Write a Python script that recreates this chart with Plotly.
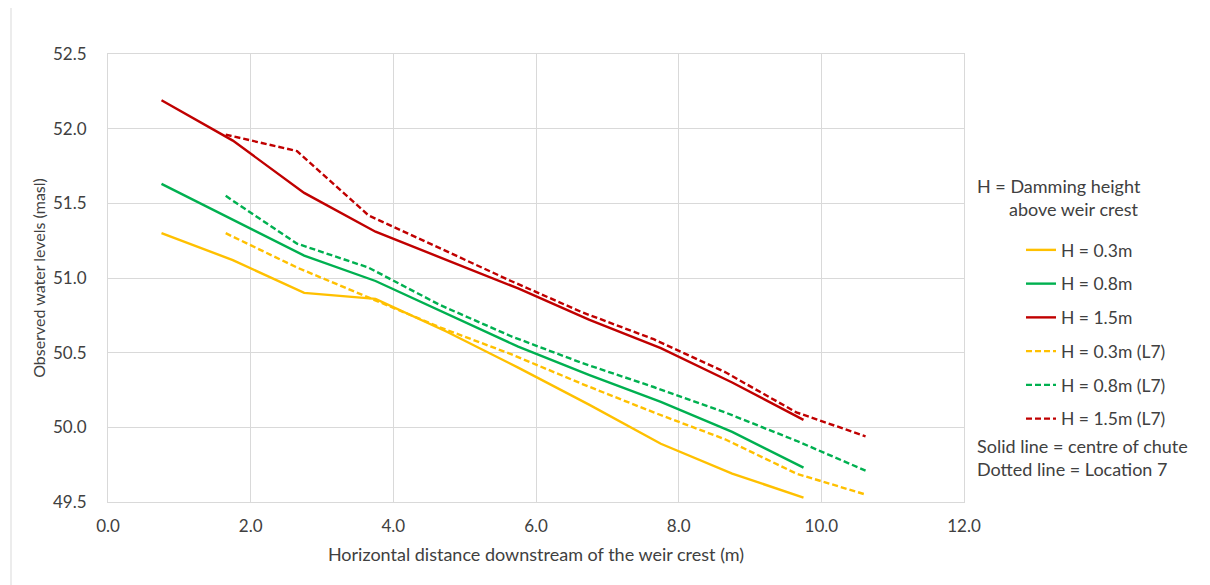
import plotly.graph_objects as go

# ---- data ----
x_centre = [0.75, 1.75, 2.75, 3.75, 4.75, 5.75, 6.75, 7.75, 8.75, 9.75]
x_loc7 = [1.65, 2.65, 3.65, 4.65, 5.65, 6.65, 7.65, 8.65, 9.65, 10.62]

h03_centre = [51.30, 51.12, 50.90, 50.86, 50.64, 50.40, 50.15, 49.89, 49.69, 49.53]
h08_centre = [51.63, 51.39, 51.15, 50.98, 50.76, 50.54, 50.35, 50.17, 49.97, 49.73]
h15_centre = [52.19, 51.92, 51.57, 51.31, 51.12, 50.93, 50.72, 50.53, 50.30, 50.05]

h03_loc7 = [51.30, 51.07, 50.87, 50.67, 50.49, 50.29, 50.10, 49.92, 49.69, 49.55]
h08_loc7 = [51.55, 51.23, 51.07, 50.82, 50.61, 50.43, 50.27, 50.10, 49.91, 49.71]
h15_loc7 = [51.96, 51.85, 51.42, 51.20, 50.98, 50.77, 50.59, 50.37, 50.10, 49.94]

names = ["H = 0.3m", "H = 0.8m", "H = 1.5m",
         "H = 0.3m (L7)", "H = 0.8m (L7)", "H = 1.5m (L7)"]
x_ticks = [0, 2, 4, 6, 8, 10, 12]
y_ticks = [49.5, 50.0, 50.5, 51.0, 51.5, 52.0, 52.5]

YELLOW, GREEN, RED = "#FFC000", "#00B050", "#C00000"
FONT = "Lato, Open Sans, sans-serif"
TXT = "#404040"

series = [
    (x_centre, h03_centre, YELLOW, "solid"),
    (x_centre, h08_centre, GREEN, "solid"),
    (x_centre, h15_centre, RED, "solid"),
    (x_loc7, h03_loc7, YELLOW, "6px,3px"),
    (x_loc7, h08_loc7, GREEN, "6px,3px"),
    (x_loc7, h15_loc7, RED, "6px,3px"),
]

fig = go.Figure()
for i, (xs, ys, col, dash) in enumerate(series):
    fig.add_trace(go.Scatter(
        x=xs, y=ys, mode="lines", name=names[i], legendgroup=f"g{i}",
        line=dict(color=col, width=2.4, dash=dash),
    ))

OFF = 8  # page body margin
W, H = 1210 - OFF, 585 - OFF
L, T = 108 - OFF, 54 - OFF
R = W - (964 - OFF)
B = H - (502 - OFF)
pw, ph = W - L - R, H - T - B

def px(xr):
    return (xr - OFF - L) / pw

def py(yr):
    return (H - B - (yr - OFF)) / ph

grid = "#D9D9D9"
ann = dict(xref="paper", yref="paper", xanchor="left", yanchor="middle",
           showarrow=False, font=dict(family=FONT, size=18, color=TXT))
fig.update_layout(
    width=W, height=H,
    margin=dict(l=L, r=R, t=T, b=B, autoexpand=False),
    paper_bgcolor="white", plot_bgcolor="white",
    font=dict(family=FONT, size=15, color=TXT),
    showlegend=True,
    legend=dict(
        x=px(1021), y=py(232), xanchor="left", yanchor="top",
        traceorder="grouped", tracegroupgap=8,
        font=dict(family=FONT, size=17.5, color=TXT),
        bgcolor="rgba(0,0,0,0)",
    ),
    xaxis=dict(
        range=[0, 12], tickvals=x_ticks,
        ticktext=[f"{v:.1f}" for v in x_ticks],
        tickfont=dict(size=17),
        showgrid=True, gridcolor=grid, gridwidth=1,
        showline=True, linecolor=grid, linewidth=1, mirror=True,
        zeroline=False, ticks="", ticklabelstandoff=9,
        title=dict(text="Horizontal distance downstream of the weir crest (m)",
                   font=dict(family=FONT, size=18, color=TXT), standoff=12),
    ),
    yaxis=dict(
        range=[49.5, 52.5], tickvals=y_ticks,
        ticktext=[f"{v:.1f}" for v in y_ticks],
        tickfont=dict(size=17),
        showgrid=True, gridcolor=grid, gridwidth=1,
        showline=True, linecolor=grid, linewidth=1, mirror=True,
        zeroline=False, ticks="", ticklabelstandoff=17,
        title=dict(text="Observed water levels (masl)",
                   font=dict(family=FONT, size=16, color=TXT), standoff=3),
    ),
    shapes=[dict(type="rect", xref="paper", yref="paper",
                 x0=px(11), x1=px(1280), y0=py(7), y1=py(650),
                 line=dict(color="#D9D9D9", width=1), layer="below")],
    annotations=[
        dict(text="H = Damming height", x=px(975), y=py(186), **ann),
        dict(text="above weir crest", x=px(1007), y=py(209), **ann),
        dict(text="Solid line = centre of chute", x=px(975), y=py(446), **ann),
        dict(text="Dotted line = Location 7", x=px(975), y=py(469), **ann),
    ],
)

fig.write_html("out.html")
